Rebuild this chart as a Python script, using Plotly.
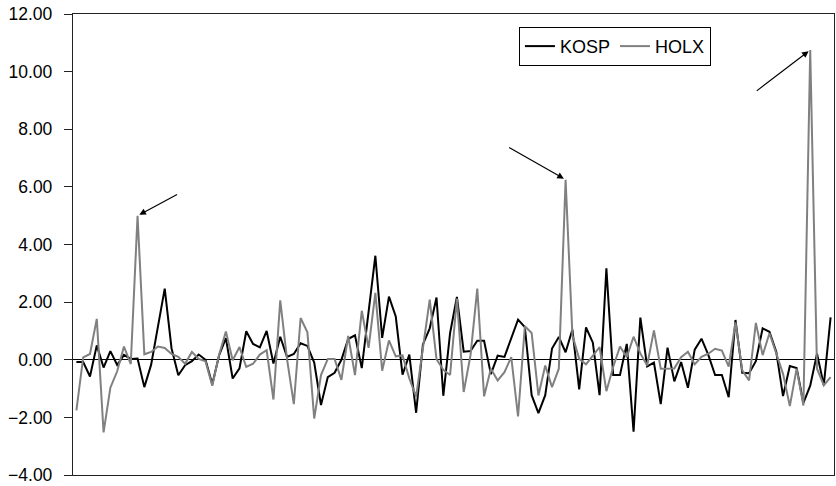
import plotly.graph_objects as go

# Period index (no category labels shown on the x axis)
periods = list(range(1, 113))

kosp = [-0.08, -0.08, -0.58, 0.5, -0.27, 0.3, -0.18, 0.17, 0.03, 0.04,
        -0.95, -0.17, 1.15, 2.47, 0.4, -0.54, -0.19, -0.05, 0.18, 0.0,
        -0.85, 0.15, 0.75, -0.65, -0.3, 0.99, 0.55, 0.43, 1.0, -0.13,
        0.8, 0.1, 0.2, 0.57, 0.48, -0.1, -1.57, -0.6, -0.45, 0.0,
        0.72, 0.85, -0.29, 1.6, 3.61, 0.76, 2.19, 1.5, -0.52, 0.18,
        -1.84, 0.53, 1.09, 2.16, -1.25, 0.93, 2.18, 0.28, 0.3, 0.66,
        0.66, -0.5, 0.14, 0.1, 0.77, 1.39, 1.13, -1.23, -1.85, -1.23,
        0.39, 0.79, 0.26, 1.05, -1.03, 1.12, 0.6, -1.23, 3.17, -0.53,
        -0.53, 0.55, -2.5, 1.46, -0.23, -0.1, -1.54, 0.42, -0.75, -0.08,
        -0.97, 0.35, 0.73, 0.17, -0.53, -0.53, -1.3, 1.38, -0.45, -0.47,
        -0.05, 1.09, 0.97, 0.28, -1.26, -0.22, -0.29, -1.5, -0.9, 0.21,
        -0.88, 1.47]

holx = [-1.76, 0.08, 0.2, 1.42, -2.52, -0.97, -0.4, 0.46, -0.15, 5.0,
        0.19, 0.27, 0.46, 0.41, 0.2, 0.1, -0.14, 0.27, 0.03, -0.05,
        -0.9, 0.17, 0.98, -0.02, 0.44, -0.25, -0.14, 0.18, 0.33, -1.38,
        2.06, 0.02, -1.54, 1.45, 0.95, -2.04, -0.53, 0.03, 0.03, -0.7,
        0.83, -0.53, 1.7, 0.41, 2.32, -0.38, 0.67, 0.12, 0.15, -0.65,
        -1.28, 0.35, 2.09, 0.02, -0.35, -0.53, 2.12, -1.12, 0.15, 2.47,
        -1.27, -0.31, -0.72, -0.43, 0.09, -1.97, 1.16, 0.93, -1.24, -0.2,
        -0.95, -0.31, 6.25, 0.85, 0.03, -0.16, 0.15, 0.44, -1.09, -0.25,
        0.46, 0.09, 0.8, 0.22, -0.2, 1.02, -0.31, -0.31, -0.3, 0.09,
        0.28, -0.16, 0.1, 0.21, 0.38, 0.32, -0.24, 1.3, -0.37, -0.72,
        1.28, 0.16, 0.92, 0.22, -0.49, -1.61, -0.31, -1.59, 10.75, -0.31,
        -0.89, -0.6]

y_ticks = [-4, -2, 0, 2, 4, 6, 8, 10, 12]
y_tick_labels = ["\u22124.00", "\u22122.00", "0.00", "2.00", "4.00",
                 "6.00", "8.00", "10.00", "12.00"]
# arrow tail offsets (pixels) for the three HOLX outliers, left to right
arrow_offsets = [(41, -22), (-58, -33), (-55, 42)]

FONT = "Liberation Sans, Arial, Helvetica, sans-serif"

fig = go.Figure()
fig.add_trace(go.Scatter(x=periods, y=kosp, name="KOSP", mode="lines",
                         line=dict(color="#000000", width=2)))
fig.add_trace(go.Scatter(x=periods, y=holx, name="HOLX", mode="lines",
                         line=dict(color="#808080", width=2)))

spikes = [i for i, v in enumerate(holx) if v > 4]
for (ax, ay), i in zip(arrow_offsets, spikes):
    fig.add_annotation(x=periods[i], y=holx[i], xref="x", yref="y",
                       text="", showarrow=True, ax=ax, ay=ay,
                       arrowhead=2, arrowsize=1.1, arrowwidth=1.2,
                       arrowcolor="#000000", standoff=2)

fig.update_layout(
    width=836, height=486,
    margin=dict(l=73, r=2, t=14, b=11),
    paper_bgcolor="white", plot_bgcolor="white",
    font=dict(family=FONT, size=17.5, color="#000000"),
    showlegend=True,
    legend=dict(orientation="h", x=0.586, y=0.972, xanchor="left", yanchor="top",
                bgcolor="white", bordercolor="#000000", borderwidth=1,
                font=dict(family=FONT, size=18, color="#000000"),
                itemwidth=30, tracegroupgap=0),
)
fig.update_xaxes(range=[0.5, len(periods) + 0.5], showgrid=False, zeroline=False,
                 showticklabels=False, ticks="", showline=True, mirror=True,
                 linecolor="#222222", linewidth=1.3)
fig.update_yaxes(range=[-4, 12], tickvals=y_ticks, ticktext=y_tick_labels,
                 showgrid=False, zeroline=True, zerolinecolor="#000000",
                 zerolinewidth=1.3, ticks="outside", ticklen=8, tickwidth=1.2,
                 tickcolor="#222222", showline=True, mirror=True,
                 linecolor="#222222", linewidth=1.3, ticklabelstandoff=8,
                 automargin=False)

fig.write_html("out.html", config={"displayModeBar": False},
               post_script="document.body.style.margin='0';document.body.style.overflow='hidden';")
